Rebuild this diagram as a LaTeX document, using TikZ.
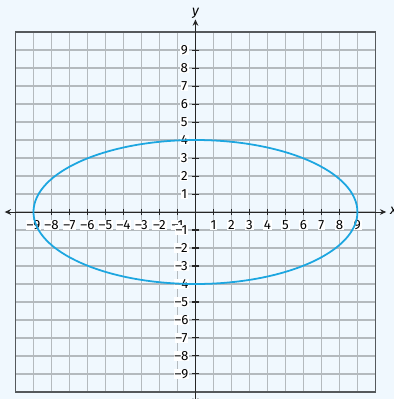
\documentclass[tikz,border=0pt]{standalone}
\usepackage{fontspec}
\setmainfont{Fira Sans}
\usetikzlibrary{arrows.meta}
\definecolor{bgblue}{HTML}{F0F8FE}
\definecolor{gridgray}{HTML}{B4BABE}
\definecolor{framegray}{HTML}{55595C}
\definecolor{ellblue}{HTML}{1CA6E0}
\tikzset{
  gridline/.style={draw=gridgray, line width=1.1pt},
  frameline/.style={draw=framegray, line width=1pt},
  axisline/.style={draw=black!85, line width=0.8pt},
  xlab/.style={fill=white, inner sep=0.6pt, font=\fontsize{10.5}{11}\selectfont},
  ylab/.style={fill=white, inner sep=0.6pt, font=\fontsize{10.5}{11}\selectfont},
  curve/.style={draw=ellblue, line width=1.4pt}
}
\begin{document}
\begin{tikzpicture}[x=0.5cm,y=0.5cm]
\fill[bgblue] (-10.86,-10.39) rectangle (11.03,11.78);
\useasboundingbox (-10.86,-10.39) rectangle (11.03,11.78);
\foreach \k in {-10,...,10} {
  \draw[gridline] (\k,-10) -- (\k,10);
  \draw[gridline] (-10,\k) -- (10,\k);
}
\draw[frameline] (-10,-10) rectangle (10,10);
% axes
\coordinate (xl) at (-10.6,0);
\coordinate (xr) at (10.6,0);
\coordinate (yt) at (0,10.7);
\coordinate (yb) at (0,-10.7);
\draw[axisline, {Stealth[length=5pt,width=4.5pt]}-{Stealth[length=5pt,width=4.5pt]}] (xl) -- (xr);
\draw[axisline, {Stealth[length=5pt,width=4.5pt]}-{Stealth[length=5pt,width=4.5pt]}] (yb) -- (yt);
\foreach \i in {-9,...,-1,1,2,...,9} {
  \draw[axisline] (\i,-0.17) -- (\i,0.17);
  \draw[axisline] (-0.17,\i) -- (0.17,\i);
}
\foreach \i in {-9,...,-1} {
  \node[xlab] (xt\the\numexpr\i+10\relax) at (\i,-0.72) {–\the\numexpr-\i\relax};
  \node[ylab] (yt\the\numexpr\i+10\relax) at (-0.78,\i) {–\the\numexpr-\i\relax};
}
\foreach \i in {1,...,9} {
  \node[xlab] (xp\i) at (\i,-0.72) {\i};
  \node[ylab] (yp\i) at (-0.62,\i) {\i};
}
\node[font=\itshape\fontsize{11}{12}\selectfont] (xname) at (11.0,0.05) {x};
\node[font=\itshape\fontsize{11}{12}\selectfont] (yname) at (0,11.05) {y};
% ellipse
\draw[curve] (0,0) ellipse [x radius=9, y radius=4];
\end{tikzpicture}
\end{document}
